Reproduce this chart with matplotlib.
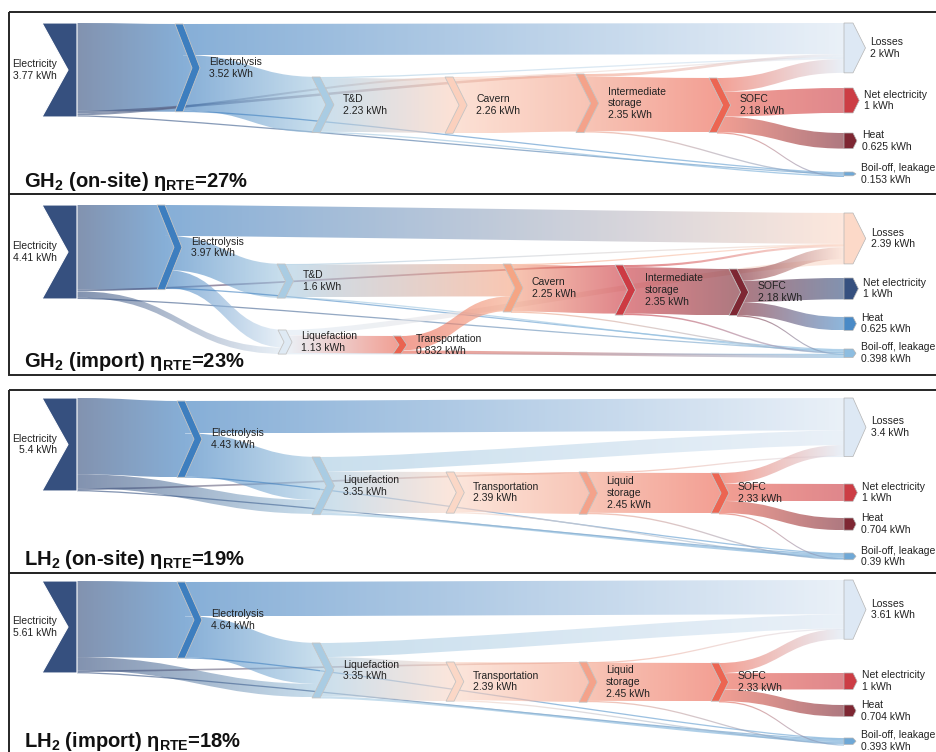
import numpy as np
import matplotlib.pyplot as plt
from matplotlib.path import Path
from matplotlib.patches import PathPatch, Polygon, Rectangle
from matplotlib.colors import to_rgb

plt.rcParams['font.family'] = ['Liberation Sans', 'DejaVu Sans']
plt.rcParams['mathtext.fontset'] = 'custom'
plt.rcParams['mathtext.rm'] = 'Liberation Sans'
plt.rcParams['mathtext.bf'] = 'Liberation Sans:bold'
plt.rcParams['mathtext.it'] = 'Liberation Sans:italic'

# ---------------- data (kWh per kWh of net electricity) ----------------
names = {"elec": "Electricity", "ely": "Electrolysis", "td": "T&D", "cav": "Cavern",
         "ist": "Intermediate\nstorage", "sofc": "SOFC", "liq": "Liquefaction",
         "trans": "Transportation", "lst": "Liquid\nstorage", "loss": "Losses",
         "net": "Net electricity", "heat": "Heat", "boil": "Boil-off, leakage"}

titles = [r"GH$_\mathbf{2}$ (on-site) η$_\mathbf{RTE}$=27%",
          r"GH$_\mathbf{2}$ (import) η$_\mathbf{RTE}$=23%",
          r"LH$_\mathbf{2}$ (on-site) η$_\mathbf{RTE}$=19%",
          r"LH$_\mathbf{2}$ (import) η$_\mathbf{RTE}$=18%"]

# GH2 on-site
p1_nodes = ["elec", "ely", "td", "cav", "ist", "sofc", "loss", "net", "heat", "boil"]
p1_kwh = [3.77, 3.52, 2.23, 2.26, 2.35, 2.18, 2, 1, 0.625, 0.153]
p1_src = ["elec", "elec", "elec", "elec", "ely", "ely", "ely", "td", "td", "td",
          "cav", "cav", "ist", "ist", "ist", "sofc", "sofc", "sofc", "sofc"]
p1_dst = ["ely", "cav", "ist", "boil", "loss", "td", "boil", "loss", "cav", "boil",
          "loss", "ist", "loss", "sofc", "boil", "loss", "net", "heat", "boil"]
p1_flow = [3.52, 0.08, 0.10, 0.035, 1.25, 2.23, 0.04, 0.04, 2.16, 0.02,
           0.05, 2.21, 0.11, 2.18, 0.055, 0.55, 1, 0.625, 0.005]

# GH2 import
p2_nodes = ["elec", "ely", "td", "liq", "trans", "cav", "ist", "sofc", "loss", "net", "heat", "boil"]
p2_kwh = [4.41, 3.97, 1.6, 1.13, 0.832, 2.25, 2.35, 2.18, 2.39, 1, 0.625, 0.398]
p2_src = ["elec", "elec", "elec", "elec", "ely", "ely", "ely", "ely", "td", "td", "td",
          "liq", "liq", "liq", "trans", "trans", "cav", "cav", "cav",
          "ist", "ist", "ist", "sofc", "sofc", "sofc", "sofc"]
p2_dst = ["ely", "ist", "liq", "boil", "loss", "td", "liq", "boil", "loss", "cav", "boil",
          "loss", "trans", "boil", "cav", "boil", "loss", "ist", "boil",
          "loss", "sofc", "boil", "loss", "net", "heat", "boil"]
p2_flow = [3.97, 0.08, 0.30, 0.04, 1.45, 1.60, 0.83, 0.04, 0.03, 1.52, 0.05,
           0.25, 0.83, 0.05, 0.68, 0.15, 0.03, 2.20, 0.02,
           0.10, 2.18, 0.07, 0.55, 1, 0.625, 0.005]

# LH2 on-site
p3_nodes = ["elec", "ely", "liq", "trans", "lst", "sofc", "loss", "net", "heat", "boil"]
p3_kwh = [5.4, 4.43, 3.35, 2.39, 2.45, 2.33, 3.4, 1, 0.704, 0.39]
p3_src = ["elec", "elec", "elec", "elec", "ely", "ely", "ely", "liq", "liq", "liq",
          "trans", "trans", "lst", "lst", "lst", "sofc", "sofc", "sofc", "sofc"]
p3_dst = ["ely", "liq", "lst", "boil", "loss", "liq", "boil", "loss", "trans", "boil",
          "lst", "boil", "loss", "sofc", "boil", "loss", "net", "heat", "boil"]
p3_flow = [4.43, 0.81, 0.10, 0.06, 1.88, 2.50, 0.05, 0.85, 2.39, 0.13,
           2.33, 0.06, 0.04, 2.33, 0.08, 0.62, 1, 0.704, 0.006]

# LH2 import
p4_nodes = ["elec", "ely", "liq", "trans", "lst", "sofc", "loss", "net", "heat", "boil"]
p4_kwh = [5.61, 4.64, 3.35, 2.39, 2.45, 2.33, 3.61, 1, 0.704, 0.393]
p4_src = p3_src
p4_dst = p3_dst
p4_flow = [4.64, 0.81, 0.10, 0.06, 2.09, 2.50, 0.05, 0.86, 2.39, 0.135,
           2.33, 0.06, 0.04, 2.33, 0.08, 0.62, 1, 0.704, 0.006]

# ---------------- layout / style (pixels) ----------------
p1_pos = {"elec": (42, 23), "ely": (175, 24), "td": (312, 77), "cav": (445, 77),
          "ist": (576, 74), "sofc": (709, 78), "loss": (844, 23), "net": (844, 88),
          "heat": (844, 133), "boil": (844, 172)}
p2_pos = {"elec": (42, 205), "ely": (157, 205), "td": (277, 264), "liq": (278, 330),
          "trans": (393, 336), "cav": (503, 264), "ist": (615, 265), "sofc": (729, 269),
          "loss": (844, 213), "net": (844, 278), "heat": (844, 317), "boil": (844, 349)}
p3_pos = {"elec": (42, 398), "ely": (177, 401), "liq": (312, 457), "trans": (446, 472),
          "lst": (579, 472), "sofc": (711, 473), "loss": (844, 398), "net": (844, 484),
          "heat": (844, 518), "boil": (844, 553)}
p4_pos = {"elec": (42, 581), "ely": (177, 582), "liq": (312, 643), "trans": (446, 662),
          "lst": (579, 662), "sofc": (711, 663), "loss": (844, 580), "net": (844, 673),
          "heat": (844, 705), "boil": (844, 738)}

navy, blue, lblue = "#36507f", "#3d7ebf", "#a9cce3"
c_onsite = {"elec": navy, "ely": blue, "td": lblue, "cav": "#fbd0bd", "ist": "#f4a28a",
            "sofc": "#ec6552", "loss": "#dde8f4", "net": "#cc3d45", "heat": "#7e2733",
            "boil": "#6fa8d6"}
c_import = {"elec": navy, "ely": blue, "td": lblue, "liq": "#dfeaf4", "trans": "#ea6350",
            "cav": "#f5a584", "ist": "#cd3b43", "sofc": "#7e2733", "loss": "#fcd9c8",
            "net": navy, "heat": "#4a8ac6", "boil": "#8dbde0"}
c_lh2 = {"elec": navy, "ely": blue, "liq": lblue, "trans": "#fbd7c6", "lst": "#f4a28a",
         "sofc": "#ec6552", "loss": "#dde8f4", "net": "#cc3d45", "heat": "#7e2733",
         "boil": "#6fa8d6"}

frames = [(12, 194), (194, 375), (390, 573), (573, 770)]
title_y = [187, 367, 565, 747]
source_px = [94, 94, 93, 92]

SINKS = {"loss", "net", "heat", "boil"}
TXT = "#222222"
CW = 8  # chevron thickness
FS = 7.5


def chev_depth(h):
    return float(np.clip(0.25 * h, 6, 17))


def sink_depth(h):
    return float(np.clip(0.25 * h, 3, 13))


def draw_flow(ax, x0, a0, b0, x1, a1, b1, c0, c1):
    c = min(0.5 * (x1 - x0), 110)
    verts = [(x0, a0), (x0 + c, a0), (x1 - c, a1), (x1, a1),
             (x1, b1), (x1 - c, b1), (x0 + c, b0), (x0, b0), (x0, a0)]
    codes = [Path.MOVETO, Path.CURVE4, Path.CURVE4, Path.CURVE4,
             Path.LINETO, Path.CURVE4, Path.CURVE4, Path.CURVE4, Path.CLOSEPOLY]
    patch = PathPatch(Path(verts, codes), facecolor="none", edgecolor="none")
    ax.add_patch(patch)
    g = np.linspace(0, 1, 128)[:, None]
    rgba = np.ones((1, 128, 4))
    rgba[0, :, :3] = (1 - g) * np.array(to_rgb(c0)) + g * np.array(to_rgb(c1))
    rgba[0, :, 3] = 0.62
    ylo, yhi = min(a0, a1), max(b0, b1)
    im = ax.imshow(rgba, extent=(x0, x1, yhi, ylo), aspect="auto",
                   interpolation="bilinear", zorder=1)
    im.set_clip_path(patch)


def draw_panel(ax, nodes, kwh, src, dst, flow, pos, colors, px):
    scale = px / kwh[0]
    geo = {}
    for k, v in zip(nodes, kwh):
        x, top = pos[k]
        h = v * scale
        geo[k] = (x, top, h, top + h / 2)

    def x_out(k):
        x = geo[k][0]
        return x + 35 if k == "elec" else x + CW

    def x_in(k):
        x = geo[k][0]
        return x if k in SINKS else x + CW

    idx = range(len(flow))
    y_out, y_in = {}, {}
    for k in nodes:
        outs = sorted([i for i in idx if src[i] == k], key=lambda i: (geo[dst[i]][3], geo[dst[i]][0]))
        y = geo[k][1]
        for i in outs:
            y_out[i] = y
            y += flow[i] * scale
        ins = sorted([i for i in idx if dst[i] == k], key=lambda i: (geo[src[i]][3], geo[src[i]][0]))
        y = geo[k][1]
        for i in ins:
            y_in[i] = y
            y += flow[i] * scale

    for i in idx:
        w = max(flow[i] * scale, 1.3)
        draw_flow(ax, x_out(src[i]), y_out[i], y_out[i] + w,
                  x_in(dst[i]), y_in[i], y_in[i] + w,
                  colors[src[i]], colors[dst[i]])

    for k, v in zip(nodes, kwh):
        x, t, h, m = geo[k]
        b = t + h
        label = f"{names[k]}\n{v:g} kWh"
        if k == "elec":
            pts = [(x, t), (x + 35, t), (x + 35, b), (x, b), (x + 26, m)]
            ax.add_patch(Polygon(pts, closed=True, fc=colors[k], ec="white", lw=0.8, zorder=3))
            ax.text(x + 15, m, label, ha="right", va="center", multialignment="right",
                    fontsize=FS, color=TXT, zorder=4)
        elif k in SINKS:
            d = sink_depth(h)
            pts = [(x, t), (x + 9, t), (x + 9 + d, m), (x + 9, b), (x, b)]
            ax.add_patch(Polygon(pts, closed=True, fc=colors[k], ec="#b4b4b4", lw=0.5, zorder=3))
            ax.text(x + 9 + d + 5, m, label, ha="left", va="center",
                    fontsize=FS, color=TXT, zorder=4)
        else:
            d = chev_depth(h)
            pts = [(x, t), (x + CW, t), (x + CW + d, m), (x + CW, b), (x, b), (x + d, m)]
            ax.add_patch(Polygon(pts, closed=True, fc=colors[k], ec="#c4c4c4", lw=0.6, zorder=3))
            ax.text(x + CW + d + 9, m, label, ha="left", va="center",
                    fontsize=FS, color=TXT, zorder=4)


fig = plt.figure(figsize=(9.36, 7.52), dpi=100)
ax = fig.add_axes([0, 0, 1, 1])

panels = [(p1_nodes, p1_kwh, p1_src, p1_dst, p1_flow, p1_pos, c_onsite),
          (p2_nodes, p2_kwh, p2_src, p2_dst, p2_flow, p2_pos, c_import),
          (p3_nodes, p3_kwh, p3_src, p3_dst, p3_flow, p3_pos, c_lh2),
          (p4_nodes, p4_kwh, p4_src, p4_dst, p4_flow, p4_pos, c_lh2)]

for n, (nodes, kwh, src, dst, flow, pos, cols) in enumerate(panels):
    draw_panel(ax, nodes, kwh, src, dst, flow, pos, cols, source_px[n])
    top, bot = frames[n]
    ax.add_patch(Rectangle((9, top), 950, bot - top, fill=False, ec="#262626", lw=1.4, zorder=5))
    ax.text(24, title_y[n], titles[n], fontsize=14.5, fontweight="bold",
            color="#111111", ha="left", va="baseline", zorder=6)

ax.set_xlim(0, 936)
ax.set_ylim(752, 0)
ax.axis("off")
fig.savefig("out.png", dpi=100)
plt.close(fig)
